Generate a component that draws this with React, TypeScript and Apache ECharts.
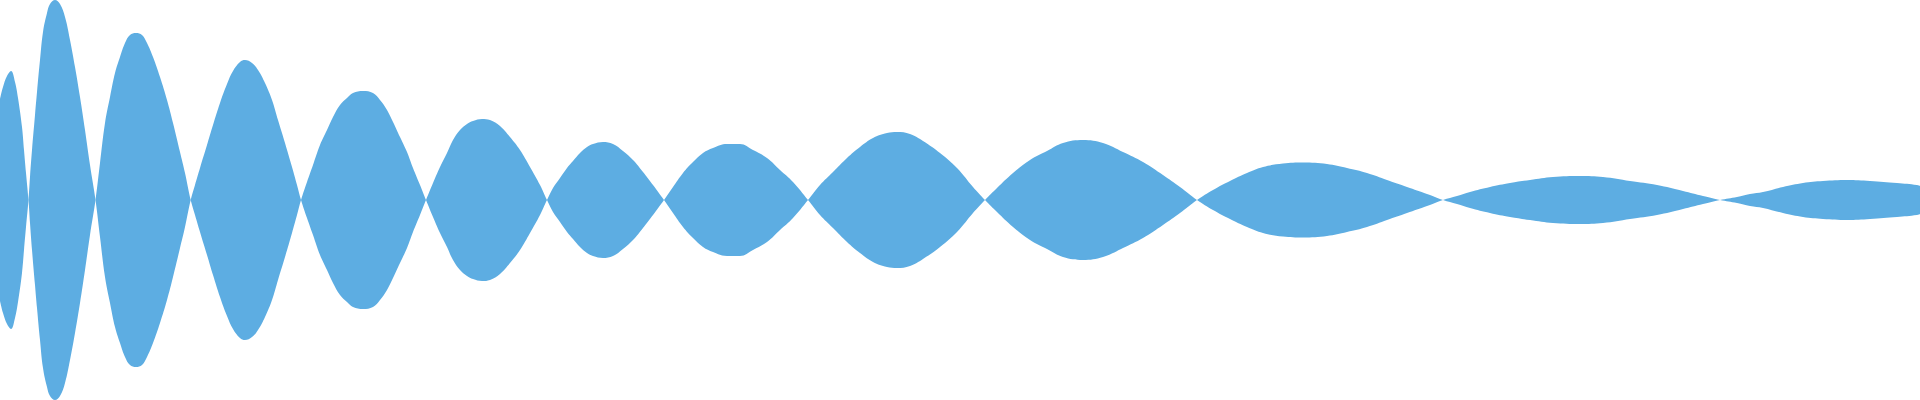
import React, { useEffect, useRef } from "react";
import * as echarts from "echarts";

// Sample positions (x, in chart units)
const xs = [
  0, 3, 7, 11, 15, 18, 22, 24, 26, 28.5,
  30, 32, 35, 37, 40, 43, 47, 50, 55, 60, 65, 70, 75, 80, 85, 90, 95.5,
  100, 105, 110, 115, 120, 125, 130, 136, 142, 147, 153, 160, 167, 173, 180, 185, 190.7,
  195, 200, 207, 213, 220, 227, 233, 240, 245, 252, 258, 265, 272, 278, 285, 292, 297, 301,
  307, 313, 320, 327, 333, 340, 347, 353, 363, 373, 380, 387, 393, 400, 407, 413, 420, 426,
  433, 440, 447, 453, 460, 467, 473, 482, 490, 500, 510, 520, 530, 540, 547,
  553, 560, 567, 573, 580, 587, 593, 603, 613, 623, 633, 643, 653, 664,
  673, 683, 693, 703, 713, 727, 740, 753, 767, 780, 793, 808,
  820, 833, 847, 860, 873, 887, 897, 910, 923, 940, 957, 973, 985,
  997, 1013, 1030, 1047, 1063, 1083, 1103, 1123, 1143, 1163, 1180, 1197,
  1213, 1230, 1247, 1263, 1283, 1303, 1327, 1347, 1367, 1387, 1407, 1427, 1443,
  1457, 1470, 1490, 1510, 1530, 1553, 1580, 1603, 1630, 1657, 1683, 1703, 1720,
  1737, 1750, 1763, 1783, 1803, 1823, 1847, 1870, 1897, 1917, 1920,
];

// Signed waveform value at each sample (alternating lobes)
const wave = [
  101, 113, 124, 129, 118, 102, 73, 50, 27, 0,
  -23, -50, -85, -108, -140, -168, -187, -196, -200, -196, -183, -160, -133, -103, -70, -35, 0,
  37, 77, 103, 127, 143, 157, 165, 167, 165, 157, 143, 123, 100, 77, 48, 27, 0,
  -15, -32, -55, -75, -97, -116, -129, -138, -140, -137, -130, -117, -100, -80, -57, -33, -15, 0,
  18, 35, 55, 70, 83, 95, 102, 107, 109, 107, 100, 90, 78, 63, 48, 32, 15, 0,
  -17, -33, -47, -60, -70, -76, -79, -81, -80, -74, -63, -50, -33, -15, 0,
  12, 22, 32, 39, 47, 53, 56, 58, 56, 49, 40, 28, 15, 0,
  -13, -27, -38, -47, -52, -56, -56, -50, -42, -30, -18, 0,
  15, 28, 42, 53, 62, 67, 68, 66, 59, 47, 32, 13, 0,
  -12, -27, -40, -49, -57, -60, -57, -48, -38, -25, -13, 0,
  10, 19, 27, 33, 36.5, 37.5, 36, 32, 27, 20, 13, 6, 0,
  -4, -8, -13, -17, -20, -23, -24, -23, -19, -15, -9, -4, 0,
  3, 6, 8, 13, 17, 19, 20, 19, 17, 15, 14,
];

const fillColor = "#5DADE2";

export default function App() {
  const ref = useRef<HTMLDivElement>(null);

  useEffect(() => {
    if (!ref.current) return;
    const chart = echarts.init(ref.current, undefined, { renderer: "svg" });
    const upper = xs.map((x, i) => [x, wave[i]]);
    const lower = xs.map((x, i) => [x, -wave[i]]);
    const mk = (name: string, data: number[][]) => ({
      name,
      type: "line",
      data,
      smooth: 0.4,
      showSymbol: false,
      symbol: "none",
      lineStyle: { width: 0, color: fillColor },
      itemStyle: { color: fillColor },
      areaStyle: { color: fillColor, opacity: 1, origin: 0 },
      silent: true,
    });
    chart.setOption({
      animation: false,
      grid: { left: 0, right: 0, top: 0, bottom: 0 },
      xAxis: { type: "value", min: 0, max: 1920, show: false },
      yAxis: { type: "value", min: -200, max: 200, show: false },
      series: [mk("wave", upper), mk("mirror", lower)],
    });
    return () => chart.dispose();
  }, []);

  return (
    <div
      ref={ref}
      style={{ position: "fixed", left: 0, top: 0, width: 1920, height: 400, background: "#fff" }}
    />
  );
}
